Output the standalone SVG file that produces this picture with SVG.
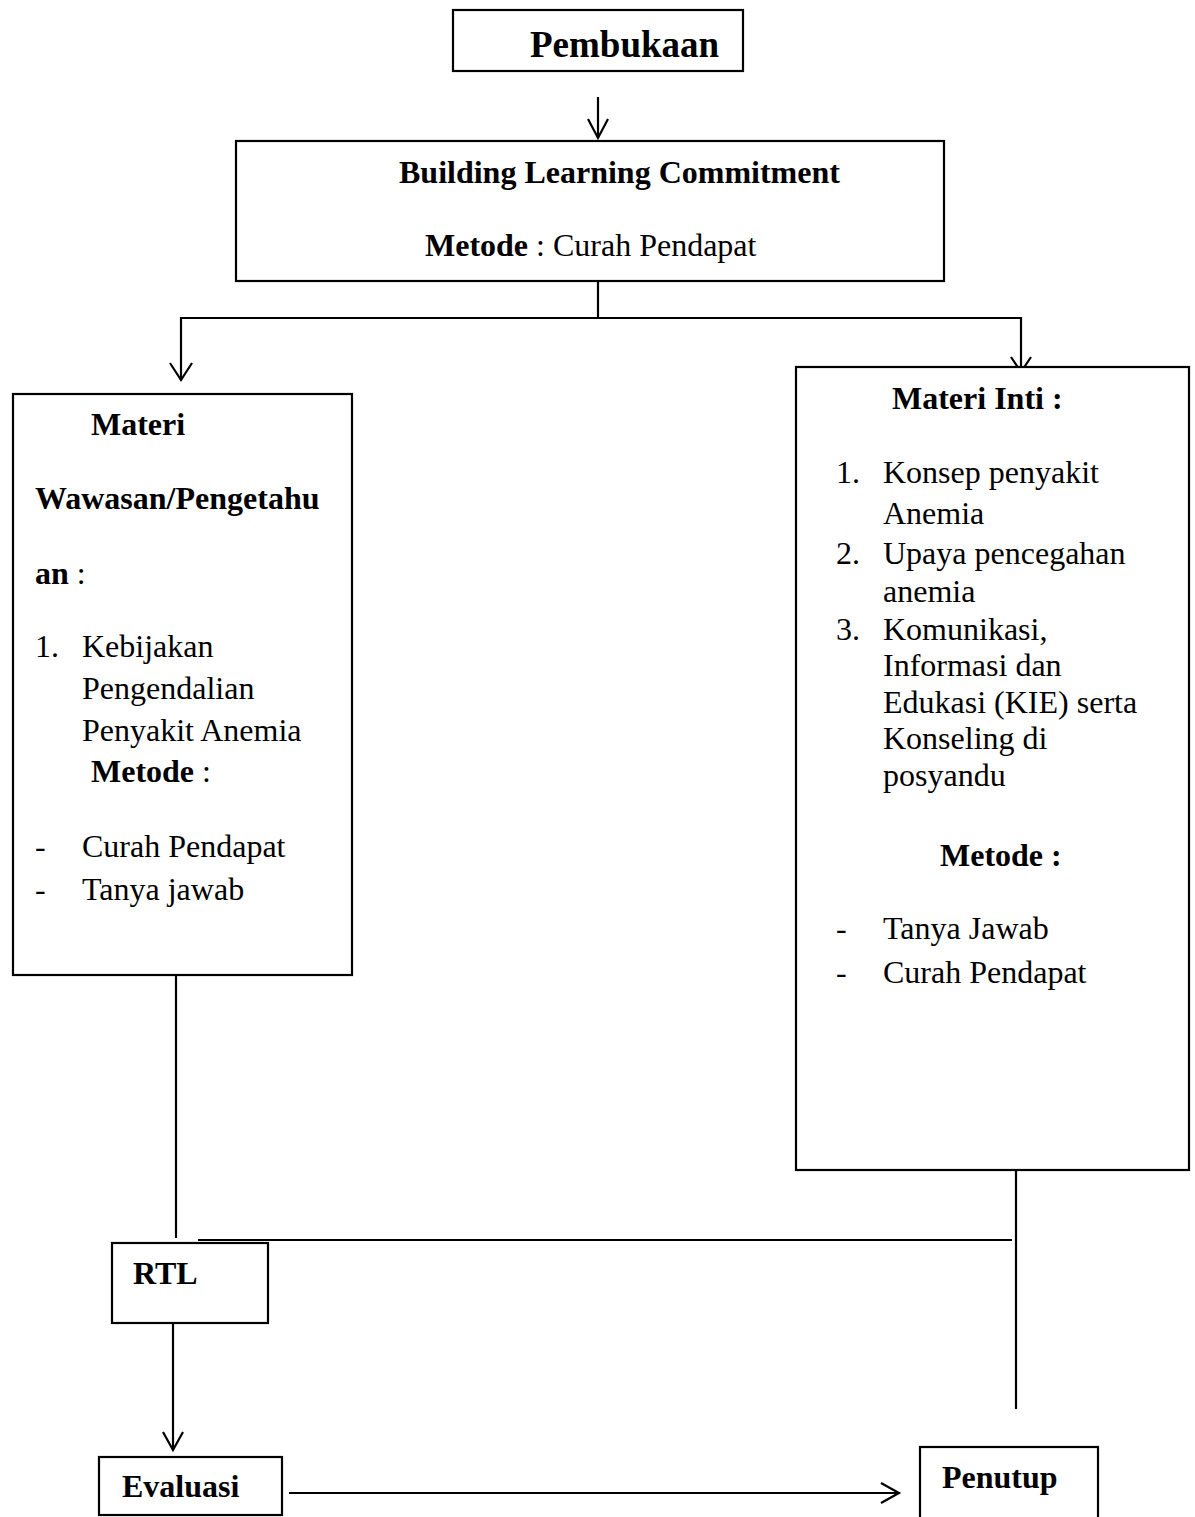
<svg xmlns="http://www.w3.org/2000/svg" width="1195" height="1517" viewBox="0 0 1195 1517">
<style>
.box{fill:#fff;stroke:#000;stroke-width:2.2}
.ln{fill:none;stroke:#000;stroke-width:2.2}
.ah{fill:none;stroke:#000;stroke-width:2.2}
text{font-family:"Liberation Serif","Times New Roman",serif;font-size:32px;fill:#000}
.b{font-weight:bold}
</style>
<rect width="1195" height="1517" fill="#fff"/>
<g id="connectors">
<line class="ln" x1="598" y1="97" x2="598" y2="138"/>
<polyline class="ah" points="588,119 598,138 608,119"/>
<polyline class="ln" points="598,281 598,318"/>
<polyline class="ln" points="181,380 181,318 1021,318 1021,372"/>
<polyline class="ah" points="170,363 181,380 192,363"/>
<polyline class="ah" points="1011,357 1021,372 1031,357"/>
<line class="ln" x1="176" y1="975" x2="176" y2="1238"/>
<line class="ln" x1="198" y1="1240" x2="1012" y2="1240"/>
<line class="ln" x1="1016" y1="1170" x2="1016" y2="1409"/>
<line class="ln" x1="173" y1="1323" x2="173" y2="1450"/>
<polyline class="ah" points="163,1432 173,1450 183,1432"/>
<line class="ln" x1="289" y1="1493" x2="899" y2="1493"/>
<polyline class="ah" points="881,1483 899,1493 881,1503"/>
</g>
<g id="pembukaan">
<rect class="box" x="453" y="10" width="290" height="61"/>
<text class="b" x="530" y="57" style="font-size:37px">Pembukaan</text>
</g>
<g id="blc">
<rect class="box" x="236" y="141" width="708" height="140"/>
<text class="b" x="399" y="183">Building Learning Commitment</text>
<text x="425" y="256"><tspan class="b">Metode</tspan> : Curah Pendapat</text>
</g>
<g id="materi-wawasan">
<rect class="box" x="13" y="394" width="339" height="581"/>
<text class="b" x="91" y="435">Materi</text>
<text class="b" x="35" y="509">Wawasan/Pengetahu</text>
<text x="35" y="584"><tspan class="b">an</tspan> :</text>
<text x="35" y="657">1.</text>
<text x="82" y="657">Kebijakan</text>
<text x="82" y="699">Pengendalian</text>
<text x="82" y="741">Penyakit Anemia</text>
<text x="91" y="782"><tspan class="b">Metode</tspan> :</text>
<text x="35" y="857">-</text>
<text x="82" y="857">Curah Pendapat</text>
<text x="35" y="900">-</text>
<text x="82" y="900">Tanya jawab</text>
</g>
<g id="materi-inti">
<rect class="box" x="796" y="367" width="393" height="803"/>
<text class="b" x="892" y="409">Materi Inti :</text>
<text x="836" y="483">1.</text>
<text x="883" y="483">Konsep penyakit</text>
<text x="883" y="524">Anemia</text>
<text x="836" y="564">2.</text>
<text x="883" y="564">Upaya pencegahan</text>
<text x="883" y="602">anemia</text>
<text x="836" y="640">3.</text>
<text x="883" y="640">Komunikasi,</text>
<text x="883" y="676">Informasi dan</text>
<text x="883" y="713">Edukasi (KIE) serta</text>
<text x="883" y="749">Konseling di</text>
<text x="883" y="786">posyandu</text>
<text class="b" x="940" y="866">Metode :</text>
<text x="836" y="939">-</text>
<text x="883" y="939">Tanya Jawab</text>
<text x="836" y="983">-</text>
<text x="883" y="983">Curah Pendapat</text>
</g>
<g id="rtl">
<rect class="box" x="112" y="1243" width="156" height="80"/>
<text class="b" x="133" y="1284">RTL</text>
</g>
<g id="evaluasi">
<rect class="box" x="99" y="1457" width="183" height="58"/>
<text class="b" x="122" y="1497">Evaluasi</text>
</g>
<g id="penutup">
<rect class="box" x="920" y="1447" width="178" height="80"/>
<text class="b" x="942" y="1488">Penutup</text>
</g>
</svg>
